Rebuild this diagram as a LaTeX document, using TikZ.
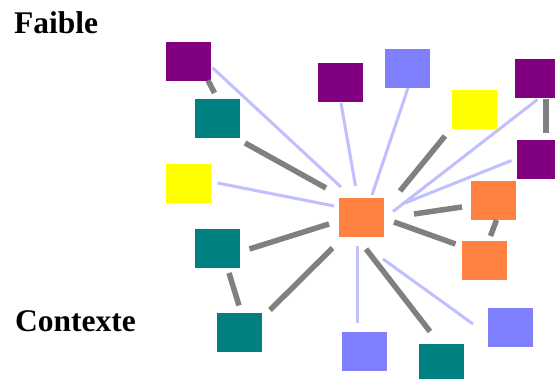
\documentclass[tikz,border=0pt]{standalone}
\usepackage{fontspec}
\setmainfont{Liberation Serif}
\definecolor{cpurple}{HTML}{800080}
\definecolor{cteal}{HTML}{008080}
\definecolor{cyellow}{HTML}{FFFF00}
\definecolor{cblue}{HTML}{8080FF}
\definecolor{corange}{HTML}{FF8040}
\definecolor{clight}{HTML}{C0C0FF}
\definecolor{cgray}{HTML}{808080}
\tikzset{
  box/.style={draw=none, inner sep=0pt, outer sep=0pt, minimum width=44.5pt, minimum height=39.5pt, anchor=north west},
  weak/.style={draw=clight, line width=3pt},
  strong/.style={draw=cgray, line width=5.5pt},
  lbl/.style={inner sep=0pt, anchor=base west, font=\bfseries\fontsize{31.5}{36}\selectfont}
}
\begin{document}
\begin{tikzpicture}[x=1pt,y=-1pt]
\useasboundingbox (0,0) rectangle (555,379);
\clip (0,0) rectangle (555,379);
\fill[white] (0,0) rectangle (555,379);
% labels
\node[lbl] (faible) at (14,33.3) {Faible};
\node[lbl] (contexte) at (15,331.7) {Contexte};
% boxes
\node[box, fill=cpurple] (P1) at (166,42) {};
\node[box, fill=cteal] (T1) at (195,99) {};
\node[box, fill=cyellow] (Y1) at (166,164) {};
\node[box, fill=cteal] (T2) at (195,229) {};
\node[box, fill=cteal] (T3) at (217,313) {};
\node[box, fill=cpurple] (P2) at (318,63) {};
\node[box, fill=cblue] (B1) at (385,49) {};
\node[box, fill=cyellow] (Y2) at (452,90) {};
\node[box, fill=cpurple] (P3) at (515,59) {};
\node[box, fill=cpurple] (P4) at (517,140) {};
\node[box, fill=corange] (O1) at (339,198) {};
\node[box, fill=corange] (O2) at (471,181) {};
\node[box, fill=corange] (O3) at (462,241) {};
\node[box, fill=cblue] (B2) at (488,308) {};
\node[box, fill=cblue] (B3) at (342,332) {};
\node[box, fill=cteal] (T4) at (419,344) {};
% connectors
\draw[weak] ([shift={(24.25,6)}]P1.center) -- ([shift={(-20.25,-30.75)}]O1.center);
\draw[strong] ([shift={(19.75,18.75)}]P1.center) -- ([shift={(-2.75,-25.75)}]T1.center);
\draw[strong] ([shift={(27.75,24.25)}]T1.center) -- ([shift={(-35.25,-29.75)}]O1.center);
\draw[weak] ([shift={(29.25,-0.75)}]Y1.center) -- ([shift={(-27.25,-11.75)}]O1.center);
\draw[strong] ([shift={(32.25,0.25)}]T2.center) -- ([shift={(-32.25,6.25)}]O1.center);
\draw[strong] ([shift={(11.75,24.25)}]T2.center) -- ([shift={(-0.25,-27.25)}]T3.center);
\draw[strong] ([shift={(30.75,-22.75)}]T3.center) -- ([shift={(-28.75,30.25)}]O1.center);
\draw[weak] ([shift={(0.75,20.25)}]P2.center) -- ([shift={(-5.75,-31.75)}]O1.center);
\draw[weak] ([shift={(0.75,19.25)}]B1.center) -- ([shift={(10.75,-22.75)}]O1.center);
\draw[strong] ([shift={(-29.25,26.25)}]Y2.center) -- ([shift={(38.75,-26.75)}]O1.center);
\draw[weak] ([shift={(0.25,20.75)}]P3.center) -- ([shift={(31.75,-6.25)}]O1.center);
\draw[weak] ([shift={(-27.75,0.75)}]P4.center) -- ([shift={(43.75,-14.75)}]O1.center);
\draw[strong] ([shift={(8.75,20.75)}]P3.center) -- ([shift={(6.75,-26.25)}]P4.center);
\draw[strong] ([shift={(-31.25,6.25)}]O2.center) -- ([shift={(52.75,-3.75)}]O1.center);
\draw[strong] ([shift={(-28.75,-16.75)}]O3.center) -- ([shift={(32.75,4.25)}]O1.center);
\draw[strong] ([shift={(3.25,19.25)}]O2.center) -- ([shift={(6.25,-24.75)}]O3.center);
\draw[weak] ([shift={(-3.75,28.25)}]O1.center) -- ([shift={(-6.75,-28.75)}]B3.center);
\draw[strong] ([shift={(4.75,31.25)}]O1.center) -- ([shift={(-11.25,-32.25)}]T4.center);
\draw[weak] ([shift={(21.75,41.25)}]O1.center) -- ([shift={(-37.25,-3.75)}]B2.center);
\end{tikzpicture}
\end{document}
